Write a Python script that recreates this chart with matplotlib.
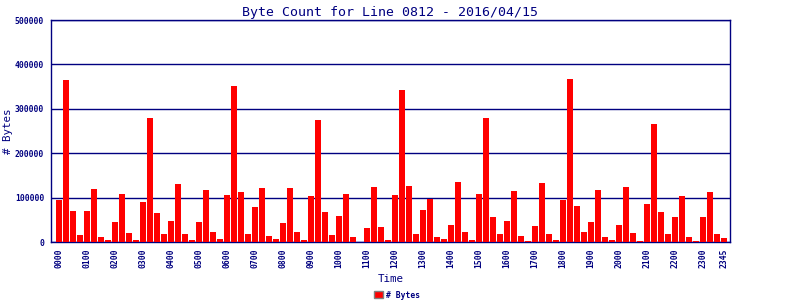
import numpy as np
import matplotlib
matplotlib.use("Agg")
import matplotlib.pyplot as plt

# byte counts per 15 minute slot, 0000 .. 2345
byte_counts = [
    95000, 365000, 70000, 16000, 70000, 119000, 11000, 4500,
    45000, 108000, 20000, 4500, 90000, 280000, 65000, 18000,
    47000, 131000, 18000, 4500, 45000, 117000, 22500, 7000,
    106000, 351000, 113000, 18000, 79000, 122000, 13500, 7000,
    43000, 122000, 22500, 4500, 104000, 275000, 68000, 16000,
    59000, 108000, 11000, 0, 31500, 124000, 34000, 4500,
    106000, 342000, 126000, 18000, 72000, 97000, 11000, 7000,
    38000, 135000, 22500, 4500, 108000, 279000, 56000, 18000,
    47000, 115000, 13500, 2300, 36000, 133000, 18000, 4500,
    95000, 367000, 81000, 22500, 45000, 117000, 11000, 4500,
    38000, 124000, 20000, 2300, 86000, 266000, 68000, 18000,
    56000, 104000, 11000, 2300, 56000, 113000, 18000, 9000,
]
slot_labels = [f"{h:02d}{m:02d}" for h in range(24) for m in (0, 15, 30, 45)]
shown_labels = [f"{h:02d}00" for h in range(24)] + ["2345"]

NAVY = "#000080"
MONO = "DejaVu Sans Mono"

fig = plt.figure(figsize=(8, 3), dpi=100)
ax = fig.add_axes([51 / 800, 1 - 242 / 300, (730 - 51) / 800, (242 - 20) / 300])

x = np.arange(len(byte_counts))
ax.bar(x, byte_counts, width=0.86, color="#ff0000", label="# Bytes", zorder=3)

ax.set_xlim(-1.14, len(byte_counts) - 0.14)
ax.set_ylim(0, 500000)
ax.set_yticks(range(0, 500001, 100000))
ax.set_yticklabels([str(v) for v in range(0, 500001, 100000)],
                   family=MONO, fontsize=5.8, fontweight="bold", color=NAVY)
ax.yaxis.grid(True, color=NAVY, linewidth=1.0, zorder=1)

tick_pos = [slot_labels.index(lbl) for lbl in shown_labels]
ax.set_xticks(tick_pos)
ax.set_xticklabels(shown_labels, rotation=90, family=MONO, fontsize=5.8,
                   fontweight="bold", color=NAVY, va="top")
ax.tick_params(length=0)
ax.tick_params(axis="y", pad=5)
ax.tick_params(axis="x", pad=5)

for side in ax.spines.values():
    side.set_color(NAVY)
    side.set_linewidth(1.0)

ax.set_title("Byte Count for Line 0812 - 2016/04/15", family=MONO,
             fontsize=9.5, color=NAVY, pad=3)
ax.set_xlabel("Time", family=MONO, fontsize=7.8, color=NAVY, labelpad=4)
ax.set_ylabel("# Bytes", family=MONO, fontsize=7.8, color=NAVY, labelpad=1)

leg = fig.legend(loc="center", bbox_to_anchor=(397 / 800, 1 - 295 / 300),
                 frameon=False, handlelength=1.1, handleheight=0.9,
                 handletextpad=0.3, prop={"family": MONO, "size": 5.8, "weight": "bold"})
for t in leg.get_texts():
    t.set_color(NAVY)
for p in leg.get_patches():
    p.set_edgecolor("#808080")
    p.set_linewidth(1)

fig.savefig("out.png", dpi=100)
